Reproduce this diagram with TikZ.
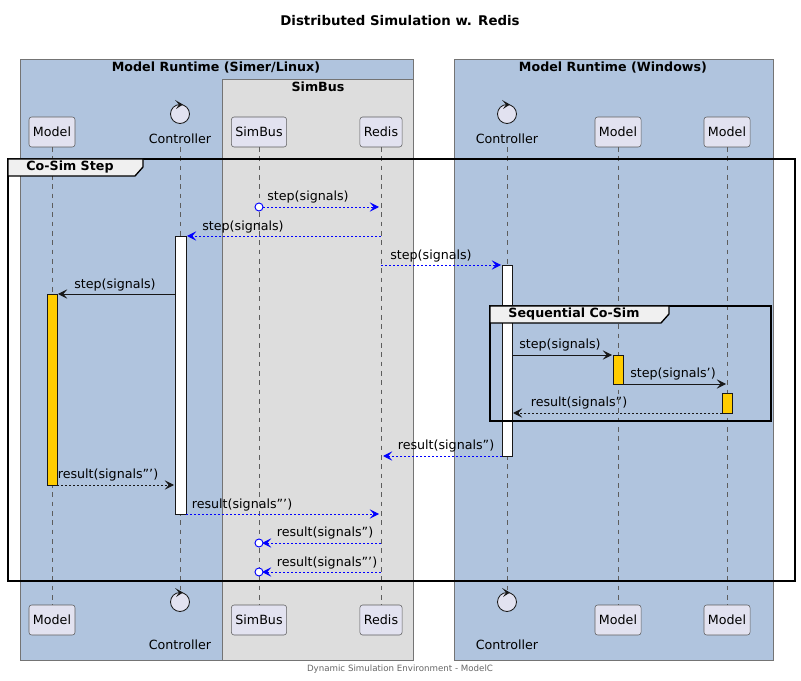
\documentclass[tikz,border=0pt]{standalone}
\usepackage{fontspec}
\setmainfont{DejaVu Sans}
\usetikzlibrary{arrows.meta}
\definecolor{steel}{HTML}{B0C4DE}
\definecolor{bus}{HTML}{DDDDDD}
\definecolor{part}{HTML}{E2E2F0}
\definecolor{gold}{HTML}{FFCC00}
\definecolor{edge}{HTML}{181818}
\begin{document}
\begin{tikzpicture}[x=0.75pt,y=-0.75pt,
  txt/.style={font=\fontsize{9.5}{11}\selectfont,inner sep=1pt},
  pbox/.style={draw=edge!70,fill=part,rounded corners=2pt,minimum height=22.5pt,inner xsep=3pt,font=\fontsize{9.5}{11}\selectfont},
  life/.style={draw=edge!70,dash pattern=on 3.5pt off 3.5pt,line width=0.4pt},
  act/.style={draw=edge,line width=0.6pt},
  sync/.style={draw=edge,line width=0.7pt,-{Stealth[length=7pt,width=7pt,inset=3pt]}},
  reply/.style={draw=edge,line width=0.7pt,dash pattern=on 1.5pt off 1.5pt,-{Stealth[length=7pt,width=7pt,inset=3pt]}},
  breply/.style={draw=blue,line width=0.7pt,dash pattern=on 1.5pt off 1.5pt,-{Stealth[length=7pt,width=7pt,inset=3pt]}},
  ball/.style={circle,draw=blue,fill=white,line width=0.7pt,inner sep=0pt,minimum size=6pt},
  frm/.style={draw=black,line width=1pt},
  ftab/.style={font=\bfseries\fontsize{9.5}{11}\selectfont}]
\useasboundingbox (0,0) rectangle (801,681);
\node[font=\bfseries\fontsize{10}{12}\selectfont] (title) at (400,21) {Distributed Simulation w. Redis};
% boxes
\draw[draw=edge!60,fill=steel] (20,59) rectangle (413,660);
\draw[draw=edge!60,fill=bus] (222,79) rectangle (413,660);
\draw[draw=edge!60,fill=steel] (454,59) rectangle (773,660);
\node[ftab] (b1) at (216,68) {Model Runtime (Simer/Linux)};
\node[ftab] (b2) at (318,87) {SimBus};
\node[ftab] (b3) at (613,68) {Model Runtime (Windows)};
% lifelines
\foreach \x in {52,180,259,381,507,618,727} \draw[life] (\x,147) -- (\x,605);
% participants top and bottom
\foreach \y/\s in {132/t,620/b}{
  \node[pbox] (m1\s) at (52,\y) {Model};
  \node[pbox] (sb\s) at (259,\y) {SimBus};
  \node[pbox] (rd\s) at (381,\y) {Redis};
  \node[pbox] (m2\s) at (618,\y) {Model};
  \node[pbox] (m3\s) at (727,\y) {Model};
}
\foreach \cx/\n in {180/c1,507/c2}{
  \foreach \cy/\ly/\s in {114/139/t,602/645/b}{
    \draw[edge,fill=part,line width=0.6pt] (\cx,\cy) circle (9.5);
    \fill[edge] (\cx-5,\cy-14) -- (\cx+3,\cy-9.5) -- (\cx-4,\cy-5) -- (\cx-1,\cy-9.5) -- cycle;
    \node[txt] (\n\s) at (\cx,\ly) {Controller};
  }
}
% co-sim frame
\draw[frm] (8,159) rectangle (795,581);
\draw[black,fill=black!6,line width=1pt] (8,159) -- (143,159) -- (143,167) -- (135,176) -- (8,176) -- cycle;
\node[ftab] (f1) at (70,167) {Co-Sim Step};
% activations
\draw[act,fill=white] (175,236) rectangle (186,514);
\draw[act,fill=gold] (47,294) rectangle (57,485);
\draw[act,fill=white] (502,265) rectangle (512,456);
% sequential frame
\draw[frm] (490,306) rectangle (771,421);
\draw[black,fill=black!6,line width=1pt] (490,306) -- (669,306) -- (669,314) -- (661,323) -- (490,323) -- cycle;
\node[ftab] (f2) at (574,314) {Sequential Co-Sim};
\draw[act,fill=gold] (613,355) rectangle (623,384);
\draw[act,fill=gold] (722,393) rectangle (732,413);
% coordinates
\coordinate (a1) at (259,207); \coordinate (a1e) at (379,207);
\coordinate (a2) at (381,236); \coordinate (a2e) at (187,236);
\coordinate (a3) at (381,265); \coordinate (a3e) at (501,265);
\coordinate (a4) at (175,294); \coordinate (a4e) at (58,294);
\coordinate (a5) at (512,355); \coordinate (a5e) at (612,355);
\coordinate (a6) at (623,384); \coordinate (a6e) at (726,384);
\coordinate (a7) at (722,413); \coordinate (a7e) at (513,413);
\coordinate (a8) at (502,456); \coordinate (a8e) at (383,456);
\coordinate (a9) at (57,485); \coordinate (a9e) at (174,485);
\coordinate (a10) at (186,514); \coordinate (a10e) at (379,514);
\coordinate (a11) at (381,543); \coordinate (a11e) at (262,543);
\coordinate (a12) at (381,572); \coordinate (a12e) at (262,572);
\draw[breply] (a1) -- (a1e); \node[ball] (o1) at (a1) {};
\node[txt] (l1) at (308,197) {step(signals)};
\draw[breply] (a2) -- (a2e); \node[txt] (l2) at (243,227) {step(signals)};
\draw[breply] (a3) -- (a3e); \node[txt] (l3) at (431,256) {step(signals)};
\draw[sync] (a4) -- (a4e); \node[txt] (l4) at (115,285) {step(signals)};
\draw[sync] (a5) -- (a5e); \node[txt] (l5) at (560,345) {step(signals)};
\draw[sync] (a6) -- (a6e); \node[txt] (l6) at (673,374) {step(signals')};
\draw[reply] (a7) -- (a7e); \node[txt] (l7) at (579,403) {result(signals'')};
\draw[breply] (a8) -- (a8e); \node[txt] (l8) at (446,446) {result(signals'')};
\draw[reply] (a9) -- (a9e); \node[txt] (l9) at (108,475) {result(signals''')};
\draw[breply] (a10) -- (a10e); \node[txt] (l10) at (242,505) {result(signals''')};
\draw[breply] (a11) -- (a11e); \node[ball] (o11) at (259,543) {};
\node[txt] (l11) at (325,533) {result(signals'')};
\draw[breply] (a12) -- (a12e); \node[ball] (o12) at (259,572) {};
\node[txt] (l12) at (327,563) {result(signals''')};
\node[font=\fontsize{6.5}{8}\selectfont,text=black!60] (foot) at (400,669) {Dynamic Simulation Environment - ModelC};
\end{tikzpicture}
\end{document}
